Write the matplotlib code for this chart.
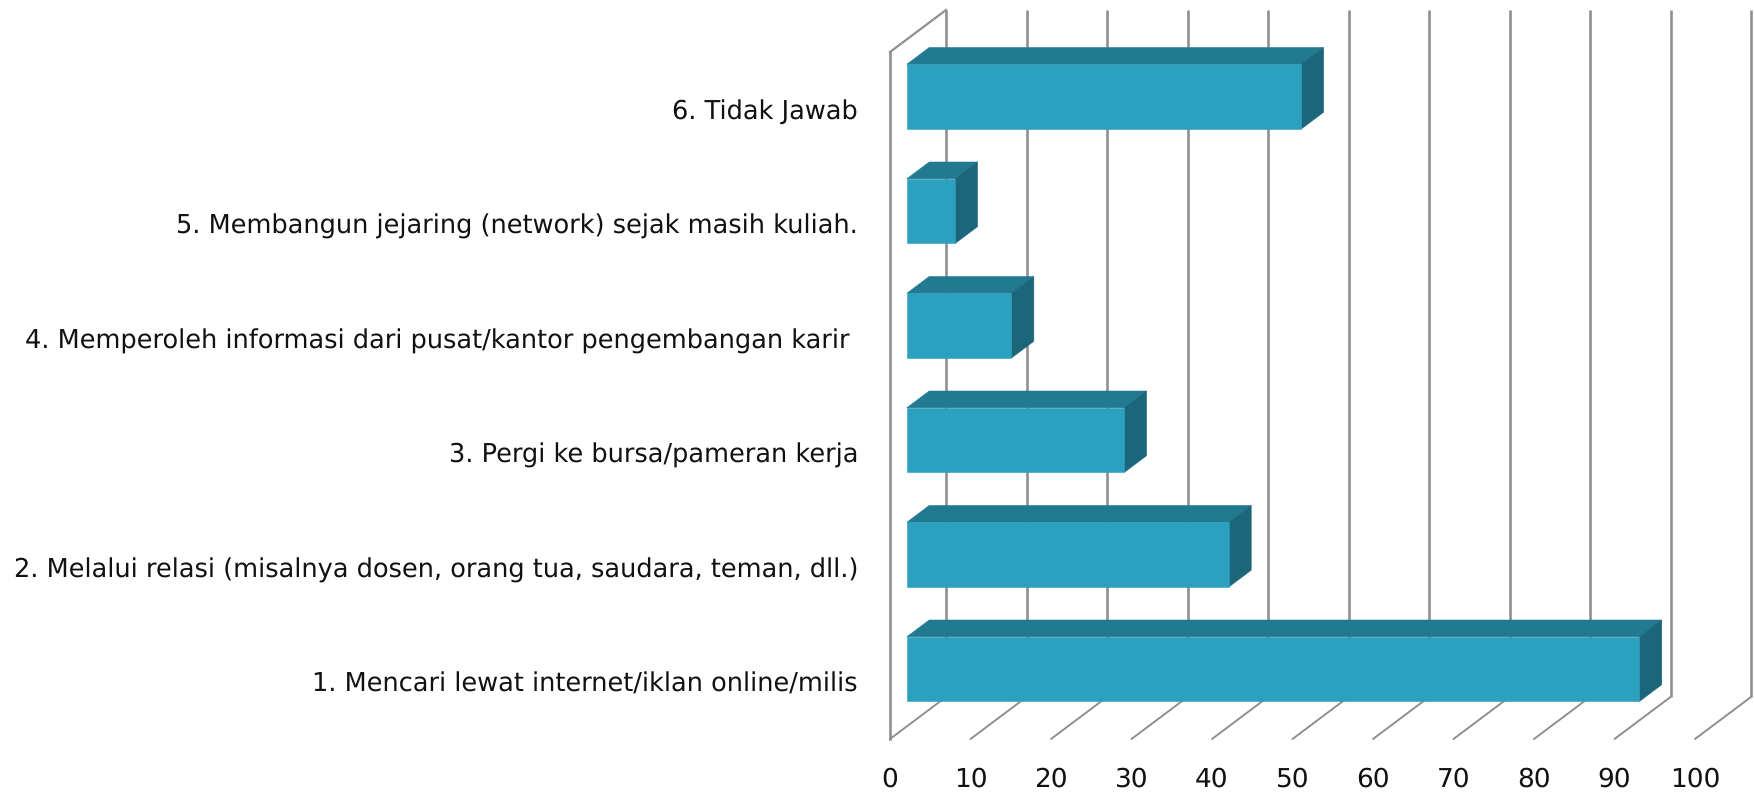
import matplotlib
matplotlib.use("Agg")
import matplotlib.pyplot as plt
from matplotlib.patches import Polygon

plt.rcParams["text.hinting"] = "no_hinting"

categories = [
    "1. Mencari lewat internet/iklan online/milis",
    "2. Melalui relasi (misalnya dosen, orang tua, saudara, teman, dll.)",
    "3. Pergi ke bursa/pameran kerja",
    "4. Memperoleh informasi dari pusat/kantor pengembangan karir ",
    "5. Membangun jejaring (network) sejak masih kuliah.",
    "6. Tidak Jawab",
]
values = [91, 40, 27, 13, 6, 49]
x_ticks = list(range(0, 101, 10))

W, H, DPI = 1754, 792, 100
FRONT = "#2BA0BF"
TOP = "#217A91"
SIDE = "#1B667B"
GRID = "#8F8F8F"
TEXT = "#111111"
FONT = "DejaVu Sans"

# oblique projection: depth z in 0..1 moves a point along the floor lines
DX, DY = 56 / 8.05, 42 / 114.5
Z0, Z1 = 0.30, 0.70
BAR_H = 0.565


def proj(x, y, z):
    return (x + z * DX, y + z * DY)


fig = plt.figure(figsize=(W / DPI, H / DPI), dpi=DPI)
ax = fig.add_axes([890 / W, 1 - 739 / H, 805 / W, 687 / H])
ax.set_xlim(0, 100)
ax.set_ylim(0, len(categories))
for s in ax.spines.values():
    s.set_visible(False)
ax.patch.set_alpha(0)

top_y = len(categories)
for t in x_ticks:
    xs, ys = zip(proj(t, 0, 0), proj(t, 0, 1))
    ax.plot(xs, ys, color=GRID, lw=1.4, clip_on=False, zorder=1, solid_capstyle="round")
    xs, ys = zip(proj(t, 0, 1), proj(t, top_y, 1))
    ax.plot(xs, ys, color=GRID, lw=1.9, clip_on=False, zorder=1, solid_capstyle="butt")
ax.plot([0, 0], [0, top_y], color=GRID, lw=1.9, clip_on=False, zorder=1)
xs, ys = zip(proj(0, top_y, 0), proj(0, top_y, 1))
ax.plot(xs, ys, color=GRID, lw=1.6, clip_on=False, zorder=1)

for i, v in enumerate(values):
    y0 = i + 0.5 - BAR_H / 2
    y1 = i + 0.5 + BAR_H / 2
    faces = [
        ([proj(0, y1, Z0), proj(v, y1, Z0), proj(v, y1, Z1), proj(0, y1, Z1)], TOP),
        ([proj(v, y0, Z0), proj(v, y1, Z0), proj(v, y1, Z1), proj(v, y0, Z1)], SIDE),
        ([proj(0, y0, Z0), proj(v, y0, Z0), proj(v, y1, Z0), proj(0, y1, Z0)], FRONT),
    ]
    for pts, c in faces:
        ax.add_patch(Polygon(pts, closed=True, facecolor=c, edgecolor=c, lw=0.4,
                             clip_on=False, zorder=3))

ax.set_xticks(x_ticks)
ax.set_xticklabels([str(t) for t in x_ticks], fontsize=19, color=TEXT, family=FONT)
ax.set_yticks([i + 0.5 for i in range(len(categories))])
ax.set_yticklabels(categories, fontsize=18.47, color=TEXT, family=FONT)
ax.tick_params(axis="x", length=0, pad=20)
ax.tick_params(axis="y", length=0, pad=23)

fig.savefig("out.png", dpi=DPI, facecolor="white")
